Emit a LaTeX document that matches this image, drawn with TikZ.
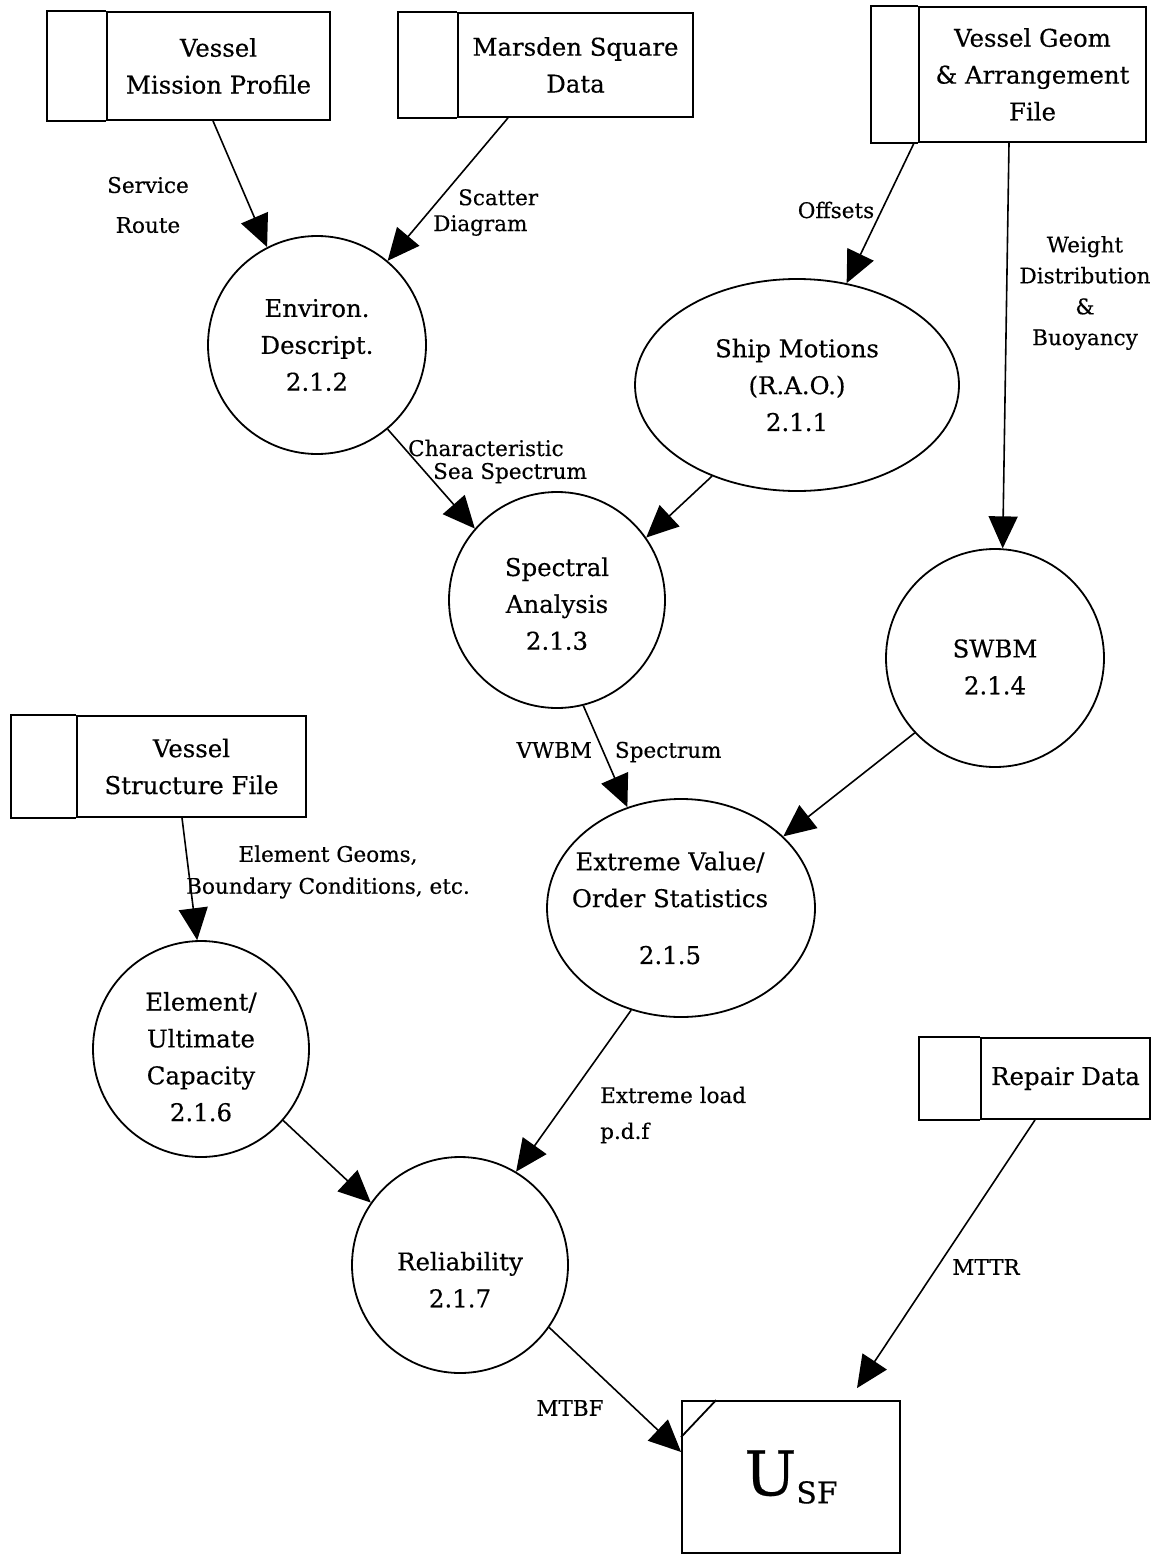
\documentclass[tikz,border=0pt]{standalone}
\usepackage{fontspec}
\setmainfont{DejaVu Serif}[FakeBold=0.4]
\usetikzlibrary{arrows.meta,positioning,shapes.geometric}

\begin{document}
\begin{tikzpicture}[
    x=1bp, y=-1bp,
    proc/.style={draw, circle, line width=1.8bp, inner sep=0pt, minimum size=217bp,
        align=center, font=\fontsize{24.5}{37}\selectfont},
    oval/.style={draw, ellipse, line width=1.8bp, inner sep=0pt, align=center,
        font=\fontsize{24.5}{37}\selectfont},
    store/.style={draw, rectangle, line width=1.8bp, inner sep=0pt, align=center,
        font=\fontsize{24.5}{37}\selectfont},
    lbl/.style={inner sep=0pt, font=\fontsize{21.6}{26}\selectfont},
    flow/.style={line width=1.6bp, -{Triangle[length=32bp,width=29bp]}},
]
    \useasboundingbox (0,0) rectangle (1160,1563);

    \node [store, minimum width=223bp, minimum height=108bp] (mission) at (218.5,66) {Vessel\\Mission Profile};
    \node [store, minimum width=235bp, minimum height=104bp] (marsden) at (575.5,65) {Marsden Square\\Data};
    \node [store, minimum width=227bp, minimum height=135bp] (geom) at (1032.5,74.5) {Vessel Geom\\\& Arrangement\\File};
    \node [store, minimum width=229bp, minimum height=101bp] (structure) at (191.5,766.5) {Vessel\\Structure File};
    \node [store, minimum width=169bp, minimum height=81bp] (repair) at (1065.5,1078.5) {Repair Data};
    \node [store, minimum width=218bp, minimum height=152bp] (usf) at (791,1477)
        {{\fontsize{62}{62}\selectfont U}\raisebox{-8bp}{\fontsize{30}{30}\selectfont SF}};

    \draw [line width=1.8bp] (mission.north west) -- ++(-59,0) |- (mission.south west);
    \draw [line width=1.8bp] (marsden.north west) -- ++(-59,0) |- (marsden.south west);
    \draw [line width=1.8bp] (geom.north west) -- ++(-47,0) |- (geom.south west);
    \draw [line width=1.8bp] (structure.north west) -- ++(-65,0) |- (structure.south west);
    \draw [line width=1.8bp] (repair.north west) -- ++(-61,0) |- (repair.south west);
    \draw [line width=1.8bp] ([yshift=-37bp]usf.north west) -- ([xshift=35bp]usf.north west);

    \node [proc, minimum size=218bp] (environ) at (317,345) {Environ.\\Descript.\\2.1.2};
    \node [oval, minimum width=324bp, minimum height=212bp] (motions) at (797,385) {Ship Motions\\(R.A.O.)\\2.1.1};
    \node [proc, minimum size=216bp] (spectral) at (557,600) {\rule{0pt}{26bp}Spectral\\Analysis\\2.1.3};
    \node [proc, minimum size=218bp] (swbm) at (995,658) {\rule{0pt}{36bp}SWBM\\2.1.4};
    \node [oval, minimum width=268bp, minimum height=218bp] (extreme) at (681,908)
        {\makebox[0pt]{\hspace{-22bp}Extreme Value/}\\\makebox[0pt]{\hspace{-22bp}Order Statistics}\\[20bp]\makebox[0pt]{\hspace{-22bp}2.1.5}};
    \node [proc, minimum size=216bp] (capacity) at (201,1049) {\rule{0pt}{34bp}Element/\\Ultimate\\Capacity\\2.1.6};
    \node [proc, minimum size=216bp] (reliab) at (460,1265) {\rule{0pt}{48bp}Reliability\\2.1.7};

    \draw [flow] ([xshift=-5.5bp]mission.south) -- (environ.117);
    \draw [flow] ([xshift=-67.5bp]marsden.south) -- (environ.50);
    \draw [flow] ([xshift=-4bp]geom.south west) -- (motions.64);
    \draw [flow] ([xshift=-23.5bp]geom.south) -- (swbm.86);
    \draw [flow] (environ.-50) -- (spectral.139);
    \draw [flow] (motions.227) -- (spectral.35);
    \draw [flow] (spectral.-76) -- (extreme.118);
    \draw [flow] (swbm.223) -- (extreme.35);
    \draw [flow] ([xshift=-9.5bp]structure.south) -- (capacity.92);
    \draw [flow] (extreme.244) -- (reliab.59);
    \draw [flow] (capacity.-41) -- (reliab.145);
    \draw [flow] (reliab.-35) -- ([yshift=25bp]usf.west);
    \draw [flow] ([xshift=-30.5bp]repair.south) -- ([xshift=66bp,yshift=12bp]usf.north);

    \node [lbl, align=center] (route lbl) at (148,205) {Service\\[14bp]Route};
    \node [lbl, align=left, anchor=west] (scatter lbl) at (433,212.5) {\hspace*{25bp}Scatter\\Diagram};
    \node [lbl] (offsets lbl) at (836,210) {Offsets};
    \node [lbl, align=center] (weight lbl) at (1085,293) {Weight\\[5bp]Distribution\\[5bp]\&\\[5bp]Buoyancy};
    \node [lbl, align=left, anchor=west] (sea lbl) at (408,461.5) {Characteristic\\[-3bp]\hspace*{25bp}Sea Spectrum};
    \node [lbl] (vwbm lbl) at (619,752) {VWBM\hspace{23bp}Spectrum};
    \node [lbl, align=center] (geoms lbl) at (328,872) {Element Geoms,\\[6bp]Boundary Conditions, etc.};
    \node [lbl, align=left, anchor=west] (load lbl) at (600,1115) {Extreme load\\[10bp]p.d.f};
    \node [lbl] (mttr lbl) at (986,1267) {MTTR};
    \node [lbl] (mtbf lbl) at (570,1408) {MTBF};
\end{tikzpicture}
\end{document}
